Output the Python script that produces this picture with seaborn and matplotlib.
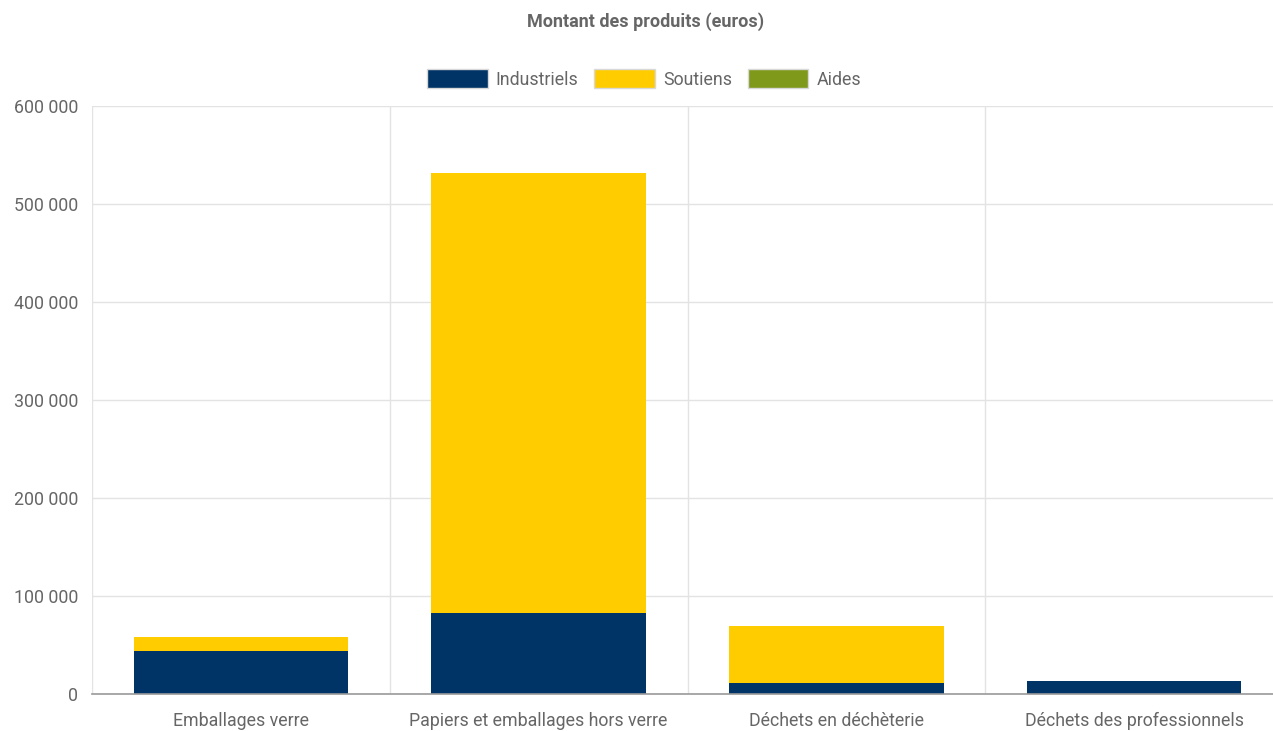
import numpy as np
import pandas as pd
import matplotlib
matplotlib.use("Agg")
import matplotlib.pyplot as plt
import matplotlib.ticker as mticker
from matplotlib.patches import Patch
import seaborn as sns

categories = ["Emballages verre", "Papiers et emballages hors verre",
              "Déchets en déchèterie", "Déchets des professionnels"]
industriels = [43900, 82700, 11200, 13300]
soutiens = [14300, 448900, 58200, 0]
aides = [0, 0, 0, 0]
series_names = ["Industriels", "Soutiens", "Aides"]
colors = ["#003366", "#FFCC00", "#7F991A"]
y_ticks = [0, 100000, 200000, 300000, 400000, 500000, 600000]

sns.set_theme(style="white")
plt.rcParams['font.family'] = ['Roboto', 'DejaVu Sans']
TXT = "#666666"
GRID = "#e3e3e3"
FS = 12.8

W, H = 1273, 731
fig = plt.figure(figsize=(W / 100, H / 100), dpi=100)
ax = fig.add_axes([92 / W, (H - 694) / H, (1283 - 92) / W, (694 - 106) / H])

df = pd.DataFrame({"cat": categories, "ind": industriels, "sou": soutiens, "aid": aides})
df["c1"] = df["ind"]
df["c2"] = df["ind"] + df["sou"]
df["c3"] = df["c2"] + df["aid"]

for col, colr in zip(["c3", "c2", "c1"], colors[::-1]):
    sns.barplot(data=df, x="cat", y=col, color=colr, width=0.72, ax=ax,
                saturation=1, linewidth=0, order=categories)

ax.set_xlim(-0.5, len(categories) - 0.5)
ax.set_ylim(0, 600000)
ax.set_yticks(y_ticks)
ax.yaxis.set_major_formatter(mticker.FuncFormatter(lambda v, p: f"{int(v):,}".replace(",", " ")))
ax.set_xlabel("")
ax.set_ylabel("")

# grid
ax.set_xticks(np.arange(-0.5, len(categories)), minor=True)
ax.grid(True, axis="y", color=GRID, linewidth=1)
ax.grid(True, axis="x", which="minor", color=GRID, linewidth=1)
ax.grid(False, axis="x", which="major")
ax.set_axisbelow(True)

for s in ["top", "right", "left"]:
    ax.spines[s].set_visible(False)
ax.spines["bottom"].set_color("#9a9a9a")
ax.spines["bottom"].set_linewidth(1.2)

ax.tick_params(axis="y", which="major", length=8.6, color=GRID, width=1,
               labelsize=FS, labelcolor=TXT, pad=1.5)
ax.tick_params(axis="x", which="minor", length=13.5, color=GRID, width=1)
ax.tick_params(axis="x", which="major", length=0, labelsize=FS, labelcolor=TXT, pad=13)

fig.text(646 / W, 1 - 22 / H, "Montant des produits (euros)", ha="center", va="center",
         fontsize=13, fontweight="bold", color=TXT)

handles = [Patch(facecolor=c, edgecolor="#d8d8d8", linewidth=1, label=n)
           for c, n in zip(colors, series_names)]
leg = fig.legend(handles=handles, loc="center", bbox_to_anchor=(644 / W, 1 - 79 / H),
                 ncol=3, frameon=False, handlelength=3.4, handleheight=1.2,
                 handletextpad=0.45, columnspacing=0.9, fontsize=FS, borderaxespad=0)
for t in leg.get_texts():
    t.set_color(TXT)

fig.savefig("out.png", dpi=100)
